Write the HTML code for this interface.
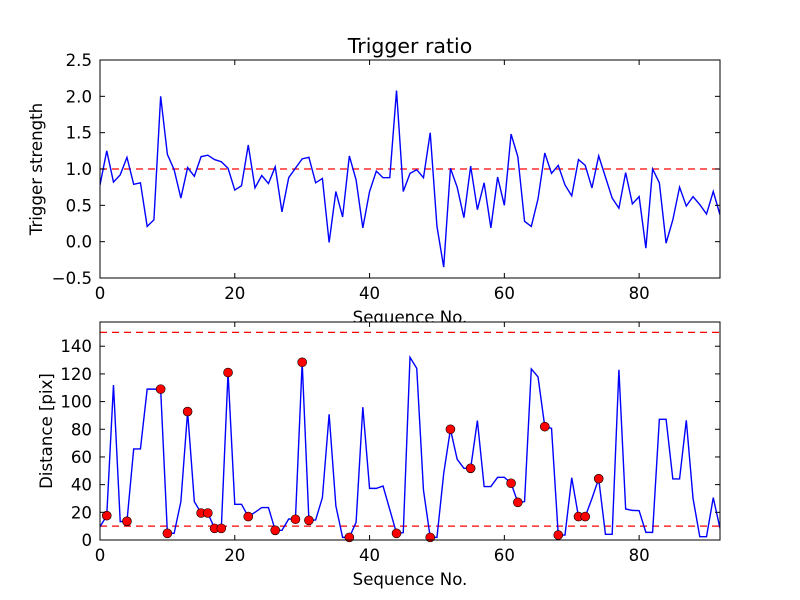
<!DOCTYPE html>
<html><head><meta charset="utf-8"><style>
html,body{margin:0;padding:0;background:#fff;}
svg{display:block;font-family:"DejaVu Sans","Liberation Sans",sans-serif;}
</style></head><body>
<svg id="fig" width="800" height="600" viewBox="0 0 800 600" xmlns="http://www.w3.org/2000/svg">
<rect width="800" height="600" fill="#fff"/>
</svg>
<script>
const ratioValues=[0.78,1.25,0.82,0.92,1.16,0.79,0.81,0.21,0.30,2.0,1.20,0.99,0.60,1.02,0.90,1.17,1.19,1.13,1.10,1.01,0.71,0.77,1.33,0.74,0.91,0.80,1.03,0.41,0.88,1.01,1.14,1.16,0.81,0.87,-0.01,0.69,0.34,1.18,0.85,0.19,0.69,0.97,0.88,0.88,2.08,0.69,0.94,0.99,0.88,1.50,0.21,-0.35,1.01,0.75,0.33,1.04,0.44,0.81,0.19,0.89,0.50,1.48,1.17,0.28,0.21,0.59,1.22,0.94,1.05,0.78,0.63,1.13,1.05,0.74,1.18,0.89,0.60,0.46,0.95,0.52,0.62,-0.09,1.0,0.81,-0.02,0.30,0.75,0.49,0.62,0.51,0.38,0.69,0.37];
const distValues=[9.6,17.6,112,13.3,13.5,65.8,65.8,109,109,109,4.8,4.8,27.7,92.8,27.7,19.5,19.5,8.4,8.4,121,25.8,25.8,16.9,20,23.4,23.4,7,7,15.2,15,128.4,14.2,14.5,30.6,90.8,24.6,1.9,1.9,12.8,96,37.3,37.3,39,22,4.8,5.3,132,124,36,1.9,1.9,48,80,58.3,51.8,51.8,86.3,38.6,38.6,45.3,45.3,41,27.2,27.7,123.6,117.8,81.9,80.7,3.6,3.6,45,16.9,16.9,30,44.3,4.1,4.1,123,22.4,21.4,21.2,5.5,5.5,87.2,87.2,44.1,44.1,86.5,30,2.4,2.4,30.6,8.4];
const markerIdx=[1,4,9,10,13,15,16,17,18,19,22,26,29,30,31,37,44,49,52,55,61,62,66,68,71,72,74];
const xTicks=[0,20,40,60,80];
const ratioTicks=[-0.5,0,0.5,1.0,1.5,2.0,2.5];
const ratioTickLabels=["\u22120.5","0.0","0.5","1.0","1.5","2.0","2.5"];
const distTicks=[0,20,40,60,80,100,120,140];
const ratioThreshold=[1.0];
const distThresholds=[10,150];

const NS="http://www.w3.org/2000/svg";
const svg=document.getElementById('fig');
function mk(tag,attrs,parent){const e=document.createElementNS(NS,tag);for(const k in attrs)e.setAttribute(k,attrs[k]);(parent||svg).appendChild(e);return e;}
const L=100,R=720;
const xMax=92;
const FS='16.6';
function sx(v){return L+(R-L)*v/xMax;}
function makeAxes(top,bot,ymin,ymax,name){
  const g=mk('g',{});
  
  
  mk('rect',{x:L,y:top,width:R-L,height:bot-top,fill:'#fff'},g);
  return {g,sy:v=>bot-(bot-top)*(v-ymin)/(ymax-ymin),top,bot};
}
function frameAndTicks(ax,yt,ylabels,xlabel,ylabel,prefix){
  const g=ax.g;
  mk('rect',{x:L,y:ax.top,width:R-L,height:ax.bot-ax.top,fill:'none',stroke:'#000','stroke-width':1},g);
  xTicks.forEach(t=>{const x=sx(t);
    mk('line',{x1:x,x2:x,y1:ax.bot,y2:ax.bot-5,stroke:'#000'},g);
    mk('line',{x1:x,x2:x,y1:ax.top,y2:ax.top+5,stroke:'#000'},g);
    const tx=mk('text',{x:x,y:ax.bot+21,'text-anchor':'middle','font-size':FS},g);tx.textContent=t;
    
    
  });
  yt.forEach((t,i)=>{const y=ax.sy(t);
    mk('line',{x1:L,x2:L+5,y1:y,y2:y,stroke:'#000'},g);
    mk('line',{x1:R,x2:R-5,y1:y,y2:y,stroke:'#000'},g);
    const tx=mk('text',{x:L-8,y:y+6,'text-anchor':'end','font-size':FS},g);tx.textContent=ylabels[i];
    
    
  });
  const xl=mk('text',{x:(L+R)/2,y:ax.bot+45,'text-anchor':'middle','font-size':FS},g);xl.textContent=xlabel;
  
  
  const cy=(ax.top+ax.bot)/2;
  const yl=mk('text',{x:0,y:0,'text-anchor':'middle','font-size':FS,transform:`translate(${prefix==='a'?42:52},${cy}) rotate(-90)`},g);yl.textContent=ylabel;
  
  
}
// top axes
const a1=makeAxes(60,278,-0.5,2.5,'ratio-axes');
const t=mk('text',{x:410,y:53,'text-anchor':'middle','font-size':'20.5'},a1.g);t.textContent='Trigger ratio';


const cp1=mk('clipPath',{id:'c1'},a1.g);
mk('rect',{x:L,y:60,width:R-L,height:218},cp1);
ratioThreshold.forEach(v=>{const l=mk('line',{x1:L,x2:R,y1:a1.sy(v),y2:a1.sy(v),stroke:'#ff0000','stroke-width':1.2,'stroke-dasharray':'7,5'},a1.g);
  
  });
const p1=mk('polyline',{points:ratioValues.map((v,i)=>sx(i)+','+a1.sy(v)).join(' '),fill:'none',stroke:'#0000ff','stroke-width':1.4,'clip-path':'url(#c1)'},a1.g);


frameAndTicks(a1,ratioTicks,ratioTickLabels,'Sequence No.','Trigger strength','a');
// bottom axes
const a2=makeAxes(322,540,0,157.5,'distance-axes');
const cp2=mk('clipPath',{id:'c2'},a2.g);
mk('rect',{x:L,y:322,width:R-L,height:218},cp2);
distThresholds.forEach(v=>{const l=mk('line',{x1:L,x2:R,y1:a2.sy(v),y2:a2.sy(v),stroke:'#ff0000','stroke-width':1.2,'stroke-dasharray':'7,5'},a2.g);
  
  });
const p2=mk('polyline',{points:distValues.map((v,i)=>sx(i)+','+a2.sy(v)).join(' '),fill:'none',stroke:'#0000ff','stroke-width':1.4,'clip-path':'url(#c2)'},a2.g);


markerIdx.forEach(i=>{const c=mk('circle',{cx:sx(i),cy:a2.sy(distValues[i]),r:4.5,fill:'#ff0000',stroke:'#000','stroke-width':0.6},a2.g);
  
  });
frameAndTicks(a2,distTicks,distTicks.map(String),'Sequence No.','Distance [pix]','b');
</script>
</body></html>
